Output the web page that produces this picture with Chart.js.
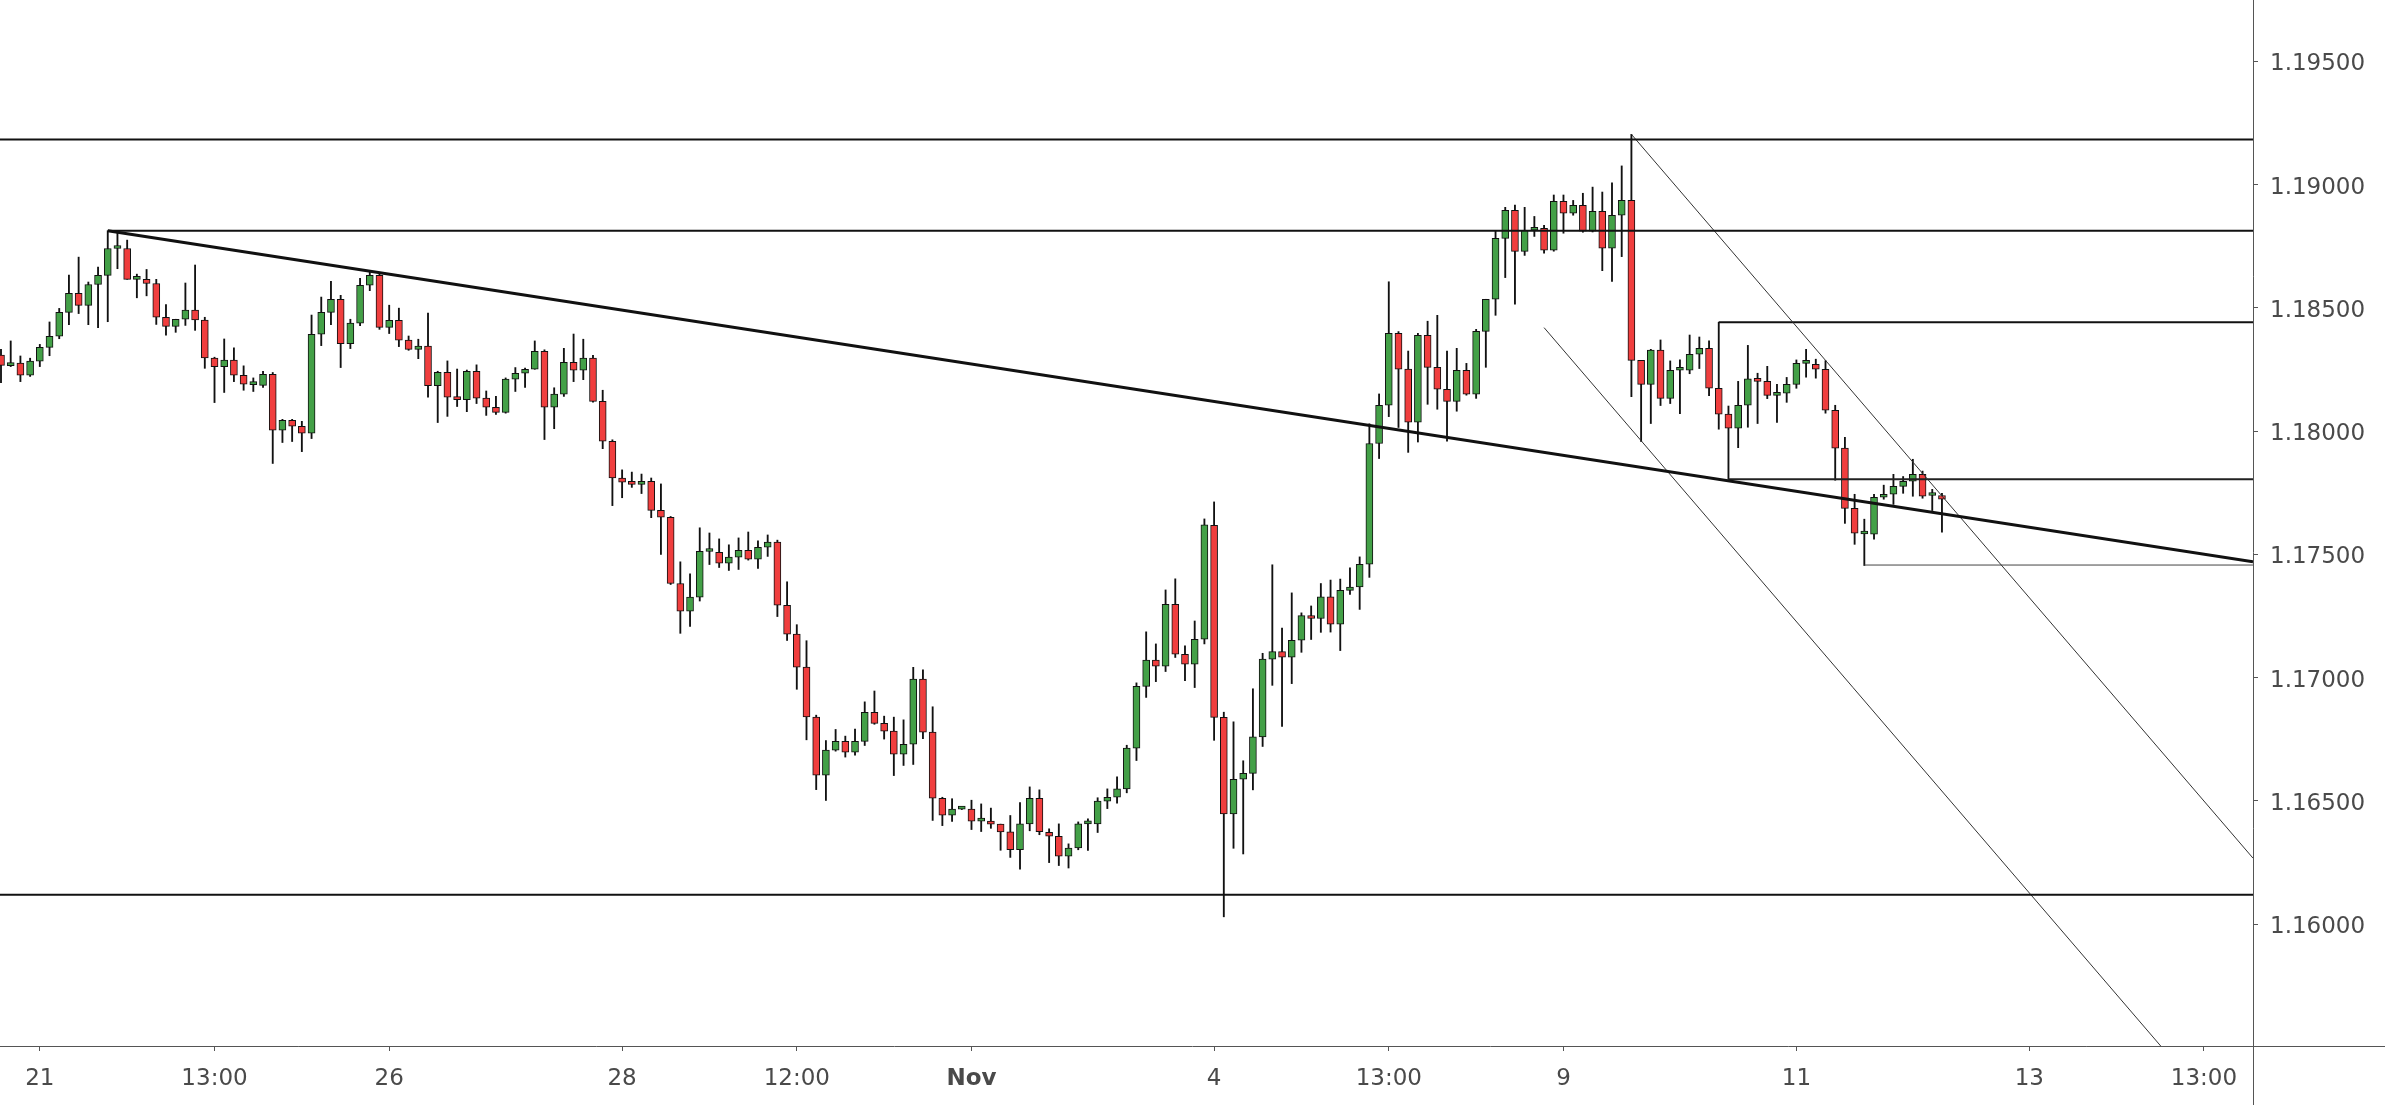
<!DOCTYPE html>
<html>
<head>
<meta charset="utf-8">
<title>EURUSD 2h</title>
<script src="https://cdn.jsdelivr.net/npm/chart.js@4.4.1/dist/chart.umd.min.js"></script>
<style>
  html, body { margin: 0; padding: 0; background: #fff; }
  #wrap { width: 2385px; height: 1105px; position: relative; }
</style>
</head>
<body>
<div id="wrap"><canvas id="chart"></canvas></div>
<script>
// 2h candles, index 0 = first visible candle (Oct 20 evening)
const opens = [
  1.18309, 1.18266, 1.18276, 1.18227, 1.18284, 1.18340, 1.18385, 1.18482, 1.18559, 1.18510,
  1.18595, 1.18632, 1.18741, 1.18741, 1.18616, 1.18616, 1.18599, 1.18462, 1.18425, 1.18454,
  1.18491, 1.18451, 1.18296, 1.18262, 1.18288, 1.18227, 1.18189, 1.18186, 1.18231, 1.18004,
  1.18044, 1.18020, 1.17992, 1.18393, 1.18482, 1.18535, 1.18355, 1.18438, 1.18592, 1.18632,
  1.18421, 1.18450, 1.18369, 1.18332, 1.18345, 1.18185, 1.18239, 1.18138, 1.18128, 1.18243,
  1.18134, 1.18097, 1.18076, 1.18211, 1.18235, 1.18251, 1.18324, 1.18097, 1.18150, 1.18279,
  1.18247, 1.18296, 1.18121, 1.17959, 1.17810, 1.17793, 1.17784, 1.17797, 1.17679, 1.17651,
  1.17382, 1.17270, 1.17327, 1.17512, 1.17509, 1.17465, 1.17489, 1.17517, 1.17481, 1.17529,
  1.17550, 1.17294, 1.17177, 1.17043, 1.16840, 1.16605, 1.16706, 1.16742, 1.16698, 1.16742,
  1.16860, 1.16815, 1.16783, 1.16690, 1.16730, 1.16994, 1.16779, 1.16511, 1.16442, 1.16467,
  1.16467, 1.16418, 1.16418, 1.16406, 1.16375, 1.16302, 1.16407, 1.16511, 1.16373, 1.16357,
  1.16276, 1.16309, 1.16407, 1.16407, 1.16499, 1.16515, 1.16549, 1.16714, 1.16965, 1.17071,
  1.17047, 1.17298, 1.17095, 1.17055, 1.17156, 1.17618, 1.16839, 1.16447, 1.16588, 1.16612,
  1.16760, 1.17075, 1.17106, 1.17083, 1.17152, 1.17252, 1.17240, 1.17328, 1.17217, 1.17354,
  1.17368, 1.17460, 1.17950, 1.18105, 1.18397, 1.18252, 1.18037, 1.18389, 1.18259, 1.18170,
  1.18121, 1.18247, 1.18150, 1.18405, 1.18535, 1.18782, 1.18896, 1.18729, 1.18815, 1.18823,
  1.18734, 1.18932, 1.18884, 1.18916, 1.18811, 1.18892, 1.18742, 1.18876, 1.18936, 1.18287,
  1.18190, 1.18329, 1.18133, 1.18247, 1.18247, 1.18312, 1.18336, 1.18174, 1.18069, 1.18012,
  1.18105, 1.18212, 1.18202, 1.18145, 1.18154, 1.18190, 1.18275, 1.18271, 1.18251, 1.18085,
  1.17931, 1.17687, 1.17583, 1.17582, 1.17732, 1.17744, 1.17776, 1.17797, 1.17825, 1.17739,
  1.17739
];
const highs = [
  1.18332, 1.18366, 1.18305, 1.18296, 1.18352, 1.18443, 1.18498, 1.18633, 1.18706, 1.18605,
  1.18666, 1.18813, 1.18813, 1.18775, 1.18637, 1.18656, 1.18616, 1.18514, 1.18454, 1.18601,
  1.18674, 1.18462, 1.18300, 1.18374, 1.18338, 1.18265, 1.18216, 1.18243, 1.18238, 1.18048,
  1.18048, 1.18040, 1.18471, 1.18544, 1.18608, 1.18551, 1.18454, 1.18620, 1.18651, 1.18640,
  1.18511, 1.18499, 1.18386, 1.18373, 1.18479, 1.18243, 1.18285, 1.18252, 1.18248, 1.18269,
  1.18163, 1.18141, 1.18216, 1.18258, 1.18256, 1.18366, 1.18330, 1.18176, 1.18336, 1.18394,
  1.18373, 1.18308, 1.18166, 1.17965, 1.17843, 1.17834, 1.17826, 1.17810, 1.17786, 1.17654,
  1.17470, 1.17421, 1.17608, 1.17587, 1.17563, 1.17539, 1.17567, 1.17591, 1.17555, 1.17579,
  1.17558, 1.17389, 1.17215, 1.17150, 1.16848, 1.16745, 1.16790, 1.16763, 1.16792, 1.16902,
  1.16946, 1.16844, 1.16840, 1.16829, 1.17042, 1.17032, 1.16882, 1.16515, 1.16509, 1.16470,
  1.16503, 1.16488, 1.16471, 1.16406, 1.16441, 1.16493, 1.16557, 1.16545, 1.16387, 1.16407,
  1.16326, 1.16415, 1.16427, 1.16513, 1.16549, 1.16598, 1.16726, 1.16979, 1.17186, 1.17137,
  1.17356, 1.17401, 1.17129, 1.17230, 1.17644, 1.17713, 1.16860, 1.16821, 1.16663, 1.16955,
  1.17099, 1.17458, 1.17201, 1.17344, 1.17263, 1.17291, 1.17382, 1.17396, 1.17400, 1.17446,
  1.17490, 1.18030, 1.18151, 1.18606, 1.18404, 1.18325, 1.18397, 1.18446, 1.18470, 1.18325,
  1.18336, 1.18275, 1.18413, 1.18535, 1.18811, 1.18908, 1.18917, 1.18908, 1.18871, 1.18835,
  1.18958, 1.18958, 1.18936, 1.18965, 1.18990, 1.18970, 1.19007, 1.19076, 1.19204, 1.18287,
  1.18332, 1.18370, 1.18285, 1.18289, 1.18390, 1.18382, 1.18366, 1.18442, 1.18102, 1.18202,
  1.18348, 1.18235, 1.18263, 1.18190, 1.18218, 1.18289, 1.18332, 1.18292, 1.18286, 1.18105,
  1.17975, 1.17744, 1.17643, 1.17744, 1.17781, 1.17825, 1.17816, 1.17886, 1.17838, 1.17764,
  1.17748
];
const lows = [
  1.18197, 1.18262, 1.18201, 1.18222, 1.18262, 1.18306, 1.18375, 1.18432, 1.18477, 1.18432,
  1.18420, 1.18444, 1.18659, 1.18616, 1.18541, 1.18549, 1.18433, 1.18389, 1.18401, 1.18429,
  1.18409, 1.18255, 1.18116, 1.18157, 1.18201, 1.18166, 1.18161, 1.18177, 1.17869, 1.17954,
  1.17958, 1.17917, 1.17970, 1.18347, 1.18432, 1.18258, 1.18335, 1.18428, 1.18570, 1.18413,
  1.18396, 1.18343, 1.18328, 1.18294, 1.18138, 1.18035, 1.18060, 1.18100, 1.18079, 1.18112,
  1.18064, 1.18068, 1.18073, 1.18161, 1.18177, 1.18251, 1.17966, 1.18010, 1.18141, 1.18201,
  1.18209, 1.18118, 1.17929, 1.17698, 1.17730, 1.17772, 1.17747, 1.17649, 1.17500, 1.17378,
  1.17180, 1.17208, 1.17311, 1.17459, 1.17447, 1.17435, 1.17439, 1.17477, 1.17443, 1.17492,
  1.17248, 1.17151, 1.16953, 1.16748, 1.16546, 1.16502, 1.16702, 1.16678, 1.16686, 1.16725,
  1.16811, 1.16751, 1.16603, 1.16644, 1.16648, 1.16753, 1.16421, 1.16400, 1.16417, 1.16465,
  1.16384, 1.16376, 1.16389, 1.16300, 1.16271, 1.16223, 1.16379, 1.16363, 1.16250, 1.16238,
  1.16228, 1.16302, 1.16299, 1.16372, 1.16469, 1.16491, 1.16533, 1.16664, 1.16920, 1.16984,
  1.17025, 1.17082, 1.16988, 1.16960, 1.17137, 1.16746, 1.16030, 1.16308, 1.16285, 1.16545,
  1.16721, 1.16969, 1.16802, 1.16976, 1.17103, 1.17155, 1.17184, 1.17185, 1.17110, 1.17338,
  1.17277, 1.17407, 1.17889, 1.18059, 1.18015, 1.17914, 1.17956, 1.18109, 1.18089, 1.17959,
  1.18081, 1.18146, 1.18133, 1.18259, 1.18470, 1.18623, 1.18515, 1.18713, 1.18790, 1.18722,
  1.18730, 1.18803, 1.18876, 1.18807, 1.18808, 1.18651, 1.18607, 1.18708, 1.18140, 1.17958,
  1.18031, 1.18104, 1.18112, 1.18071, 1.18233, 1.18254, 1.18144, 1.18008, 1.17805, 1.17933,
  1.18016, 1.18031, 1.18132, 1.18036, 1.18117, 1.18174, 1.18219, 1.18215, 1.18073, 1.17801,
  1.17626, 1.17541, 1.17455, 1.17562, 1.17724, 1.17703, 1.17748, 1.17736, 1.17728, 1.17678,
  1.17590
];
const closes = [
  1.18267, 1.18276, 1.18227, 1.18284, 1.18340, 1.18385, 1.18482, 1.18559, 1.18510, 1.18595,
  1.18632, 1.18741, 1.18741, 1.18616, 1.18616, 1.18599, 1.18462, 1.18425, 1.18454, 1.18491,
  1.18451, 1.18297, 1.18262, 1.18288, 1.18227, 1.18191, 1.18189, 1.18231, 1.18004, 1.18044,
  1.18020, 1.17992, 1.18393, 1.18482, 1.18535, 1.18355, 1.18438, 1.18592, 1.18632, 1.18421,
  1.18450, 1.18369, 1.18332, 1.18345, 1.18185, 1.18239, 1.18138, 1.18128, 1.18243, 1.18134,
  1.18097, 1.18076, 1.18211, 1.18235, 1.18251, 1.18324, 1.18097, 1.18150, 1.18279, 1.18247,
  1.18296, 1.18121, 1.17959, 1.17810, 1.17793, 1.17784, 1.17797, 1.17679, 1.17651, 1.17382,
  1.17270, 1.17327, 1.17513, 1.17512, 1.17465, 1.17489, 1.17517, 1.17481, 1.17529, 1.17550,
  1.17294, 1.17177, 1.17043, 1.16841, 1.16605, 1.16706, 1.16742, 1.16698, 1.16742, 1.16860,
  1.16815, 1.16783, 1.16690, 1.16730, 1.16994, 1.16779, 1.16511, 1.16442, 1.16467, 1.16467,
  1.16418, 1.16418, 1.16406, 1.16374, 1.16302, 1.16407, 1.16511, 1.16375, 1.16357, 1.16276,
  1.16309, 1.16407, 1.16407, 1.16499, 1.16515, 1.16549, 1.16714, 1.16965, 1.17071, 1.17047,
  1.17298, 1.17095, 1.17055, 1.17156, 1.17620, 1.16839, 1.16447, 1.16588, 1.16612, 1.16760,
  1.17075, 1.17106, 1.17083, 1.17152, 1.17252, 1.17240, 1.17328, 1.17217, 1.17354, 1.17368,
  1.17460, 1.17950, 1.18105, 1.18397, 1.18251, 1.18037, 1.18389, 1.18259, 1.18170, 1.18121,
  1.18247, 1.18150, 1.18405, 1.18535, 1.18782, 1.18896, 1.18729, 1.18815, 1.18823, 1.18734,
  1.18932, 1.18884, 1.18916, 1.18811, 1.18892, 1.18742, 1.18876, 1.18936, 1.18287, 1.18190,
  1.18329, 1.18133, 1.18247, 1.18247, 1.18312, 1.18336, 1.18174, 1.18069, 1.18012, 1.18105,
  1.18212, 1.18202, 1.18145, 1.18154, 1.18190, 1.18275, 1.18275, 1.18251, 1.18085, 1.17931,
  1.17687, 1.17586, 1.17583, 1.17732, 1.17744, 1.17776, 1.17797, 1.17825, 1.17736, 1.17739,
  1.17724
];

// axis
const xTickPos = [4, 22, 40, 64, 82, 100, 125, 143, 161, 185, 209, 227];
const xTickLabels = ['21', '13:00', '26', '28', '12:00', 'Nov', '4', '13:00', '9', '11', '13', '13:00'];
const yTicks = [1.160, 1.165, 1.170, 1.175, 1.180, 1.185, 1.190, 1.195];
const X_MIN = -0.103, X_MAX = 232.05;
const Y_MIN = 1.15506, Y_MAX = 1.19749;

// drawings: [x1, y1, x2, y2]
const levelTop = [X_MIN, 1.19183, X_MAX, 1.19183];
const levelHigh = [11, 1.18813, X_MAX, 1.18813];
const levelLow = [X_MIN, 1.16120, X_MAX, 1.16120];
const trendLine = [11, 1.18813, X_MAX, 1.17470];
const channelUpper = [168, 1.19204, X_MAX, 1.16268];
const channelLower = [159, 1.18420, X_MAX, 1.15070];
const ray1 = [177, 1.18442, X_MAX, 1.18442];
const ray2 = [178, 1.17805, X_MAX, 1.17805];
const ray3 = [192, 1.17457, X_MAX, 1.17457];

const UP = '#43a047', DOWN = '#f03e3e', AXIS = '#555';

function seg(s, width, color) {
  return {
    type: 'line',
    data: [{x: s[0], y: s[1]}, {x: s[2], y: s[3]}],
    borderColor: color,
    borderWidth: width,
    pointRadius: 0,
    fill: false,
    tension: 0,
    order: 0
  };
}

const axisLines = {
  id: 'axisLines',
  afterDraw(chart) {
    const {ctx, chartArea, width, height} = chart;
    ctx.save();
    ctx.strokeStyle = AXIS;
    ctx.lineWidth = 1;
    ctx.beginPath();
    ctx.moveTo(Math.round(chartArea.right) + 0.5, 0);
    ctx.lineTo(Math.round(chartArea.right) + 0.5, height);
    ctx.moveTo(0, Math.round(chartArea.bottom) + 0.5);
    ctx.lineTo(width, Math.round(chartArea.bottom) + 0.5);
    ctx.stroke();
    ctx.restore();
  }
};

const idx = opens.map((_, i) => i);

new Chart(document.getElementById('chart'), {
  type: 'bar',
  data: {
    datasets: [
      seg(levelTop, 2, '#111'),
      seg(levelHigh, 2, '#111'),
      seg(levelLow, 2, '#111'),
      seg(trendLine, 3, '#111'),
      seg(channelUpper, 1, '#333'),
      seg(channelLower, 1, '#333'),
      seg(ray1, 2, '#111'),
      seg(ray2, 2, '#222'),
      seg(ray3, 1, '#444'),
      {
        label: 'body',
        data: idx.map(i => ({x: i, y: [opens[i], closes[i]]})),
        backgroundColor: idx.map(i => closes[i] >= opens[i] ? UP : DOWN),
        borderColor: '#111',
        borderWidth: 1,
        borderSkipped: false,
        barThickness: 7,
        minBarLength: 3,
        grouped: false,
        order: 1
      },
      {
        label: 'wick',
        data: idx.map(i => ({x: i, y: [lows[i], highs[i]]})),
        backgroundColor: '#111',
        borderWidth: 0,
        barThickness: 1.2,
        grouped: false,
        order: 2
      }
    ]
  },
  options: {
    responsive: true,
    maintainAspectRatio: false,
    animation: false,
    layout: { padding: 0 },
    plugins: { legend: { display: false }, tooltip: { enabled: false } },
    scales: {
      x: {
        type: 'linear',
        min: X_MIN,
        max: X_MAX,
        offset: false,
        afterFit: s => { s.height = 59; s.paddingLeft = 0; s.paddingRight = 0; },
        afterBuildTicks: s => { s.ticks = xTickPos.map(v => ({value: v})); },
        border: { display: false },
        grid: { drawOnChartArea: false, drawTicks: true, tickLength: 5, color: AXIS, offset: false },
        ticks: {
          autoSkip: false,
          maxRotation: 0,
          padding: 14,
          color: '#4a4a4a',
          font: ctx => ({
            family: 'DejaVu Sans',
            size: 23,
            weight: ctx.tick && ctx.tick.label === 'Nov' ? 'bold' : 'normal'
          }),
          callback: v => xTickLabels[xTickPos.indexOf(v)] || ''
        }
      },
      y: {
        position: 'right',
        min: Y_MIN,
        max: Y_MAX,
        afterFit: s => { s.width = 132; s.paddingTop = 0; s.paddingBottom = 0; },
        afterBuildTicks: s => { s.ticks = yTicks.map(v => ({value: v})); },
        border: { display: false },
        grid: { drawOnChartArea: false, drawTicks: true, tickLength: 5, color: AXIS },
        ticks: {
          padding: 12,
          labelOffset: 3,
          color: '#4a4a4a',
          font: { family: 'DejaVu Sans', size: 23 },
          callback: v => v.toFixed(5)
        }
      }
    }
  },
  plugins: [axisLines]
});
</script>
</body>
</html>
